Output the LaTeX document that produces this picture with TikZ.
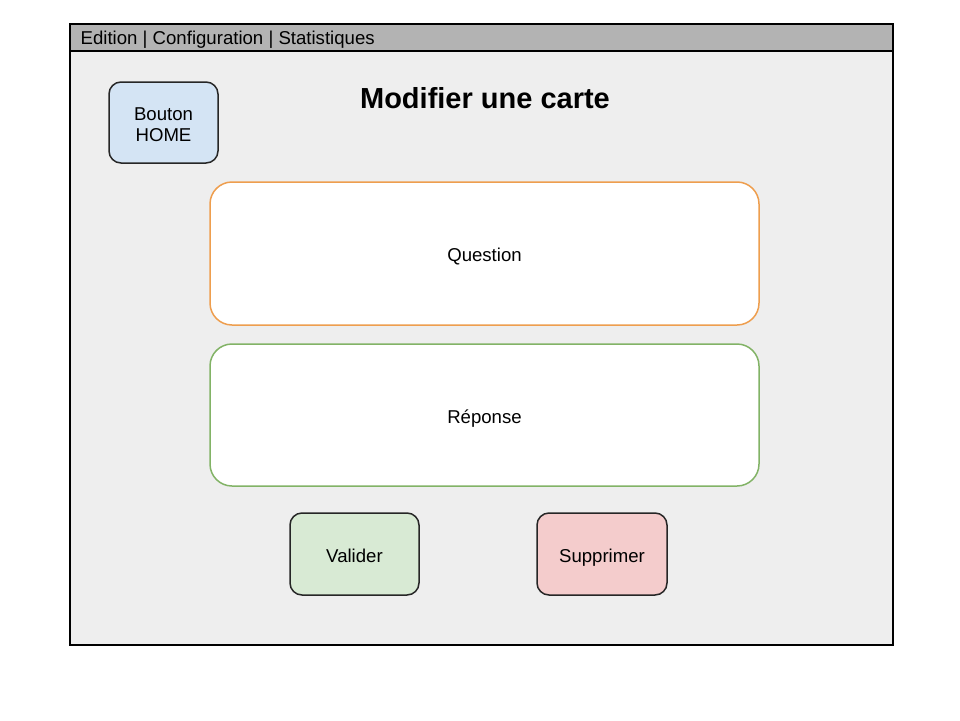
\documentclass[tikz,border=0pt]{standalone}
\usepackage{fontspec}
\setmainfont{Liberation Sans}
\definecolor{bodyfill}{HTML}{EEEEEE}
\definecolor{headfill}{HTML}{B3B3B3}
\definecolor{homefill}{HTML}{D4E4F4}
\definecolor{okfill}{HTML}{D8EAD4}
\definecolor{delfill}{HTML}{F4CCCC}
\definecolor{qborder}{HTML}{EE9E4E}
\definecolor{rborder}{HTML}{82B366}
\begin{document}
\begin{tikzpicture}[x=1pt,y=-1pt,
  btn/.style={draw=black!85, line width=1.5pt, rounded corners=12pt, inner sep=0pt},
  field/.style={fill=white, line width=1.5pt, rounded corners=22pt, inner sep=0pt},
  lbl/.style={font=\fontsize{18.6}{22}\selectfont, align=center, inner sep=0pt, anchor=base}]
\useasboundingbox (0,0) rectangle (960,720);
% window
\draw[fill=bodyfill, line width=1.5pt] (70,24) rectangle (893,645);
\draw[fill=headfill, line width=1.5pt] (70,24) rectangle (893,51);
\node[lbl, anchor=base west] (menu) at (80.5,44.5) {Edition | Configuration | Statistiques};
\node[font=\bfseries\fontsize{29}{32}\selectfont, inner sep=0pt, anchor=base] (title) at (485,108) {Modifier une carte};
% home button
\draw[btn, fill=homefill] (109,82) rectangle (218,163);
\node[lbl] (home1) at (163.5,120) {Bouton};
\node[lbl] (home2) at (163.5,141.5) {HOME};
% fields
\draw[field, draw=qborder] (210,182) rectangle (759,325);
\node[lbl] (question) at (484.5,261) {Question};
\draw[field, draw=rborder] (210,344) rectangle (759,486);
\node[lbl] (reponse) at (484.5,423) {Réponse};
% action buttons
\draw[btn, fill=okfill] (290,513) rectangle (419,595);
\node[lbl] (valider) at (354.5,562) {Valider};
\draw[btn, fill=delfill] (537,513) rectangle (667,595);
\node[lbl] (supprimer) at (602,562) {Supprimer};
\end{tikzpicture}
\end{document}
